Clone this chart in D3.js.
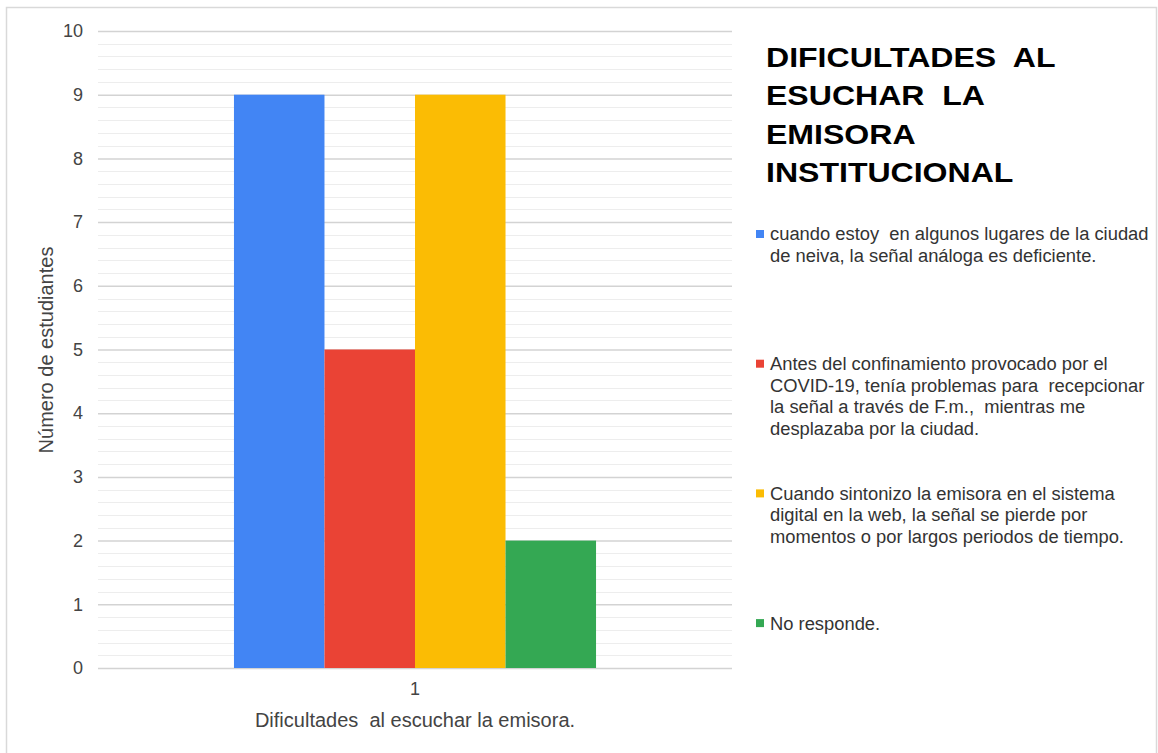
<!DOCTYPE html>
<html>
<head>
<meta charset="utf-8">
<script src="https://cdn.jsdelivr.net/npm/d3@7"></script>
<style>
  html, body { margin: 0; padding: 0; background: #fff; }
  svg { display: block; font-family: "Liberation Sans", Arial, sans-serif; }
</style>
</head>
<body>
<svg id="chart" width="1158" height="753"></svg>
<script>
// Survey answers: difficulties listening to the institutional station
const categories = ["1"];
const seriesNames = [
  "cuando estoy en algunos lugares de la ciudad de neiva, la señal análoga es deficiente.",
  "Antes del confinamiento provocado por el COVID-19, tenía problemas para  recepcionar la señal a través de F.m., mientras me desplazaba por la ciudad.",
  "Cuando sintonizo la emisora en el sistema digital en la web, la señal se pierde por momentos o por largos periodos de tiempo.",
  "No responde."
];
const legendLines = [
  ["cuando estoy  en algunos lugares de la ciudad", "de neiva, la señal análoga es deficiente."],
  ["Antes del confinamiento provocado por el", "COVID-19, tenía problemas para  recepcionar", "la señal a través de F.m.,  mientras me", "desplazaba por la ciudad."],
  ["Cuando sintonizo la emisora en el sistema", "digital en la web, la señal se pierde por", "momentos o por largos periodos de tiempo."],
  ["No responde."]
];
const seriesValues = [9, 5, 9, 2];
const seriesColors = ["#4285f4", "#ea4335", "#fbbc04", "#34a853"];
const yTicks = [0, 1, 2, 3, 4, 5, 6, 7, 8, 9, 10];
const titleLines = ["DIFICULTADES  AL", "ESUCHAR  LA", "EMISORA", "INSTITUCIONAL"];
const xTitle = "Dificultades  al escuchar la emisora.";
const yTitle = "Número de estudiantes";

const svg = d3.select("#chart");

// outer frame
svg.append("rect")
  .attr("x", 6.5).attr("y", 7.5)
  .attr("width", 1150).attr("height", 770)
  .attr("fill", "#fff").attr("stroke", "#d9d9d9").attr("stroke-width", 1.5);

const plot = { left: 98, right: 732, top: 31, bottom: 668 };

const y = d3.scaleLinear().domain([0, 10]).range([plot.bottom, plot.top]);
const x0 = d3.scaleBand().domain(categories).range([plot.left, plot.right])
  .paddingInner(0.273).paddingOuter(0.273);
const x1 = d3.scaleBand().domain(d3.range(seriesValues.length)).range([0, x0.bandwidth()]);

// minor gridlines every 0.2
const minor = d3.range(0, 50).map(i => i / 5).filter(v => Math.abs(v - Math.round(v)) > 1e-6);
svg.append("g").selectAll("line").data(minor).join("line")
  .attr("x1", plot.left).attr("x2", plot.right)
  .attr("y1", d => Math.round(y(d)) + 0.5).attr("y2", d => Math.round(y(d)) + 0.5)
  .attr("stroke", "#ededed").attr("stroke-width", 1);

// major gridlines via axis
const yAxis = d3.axisLeft(y).tickValues(yTicks).tickSize(-(plot.right - plot.left)).tickPadding(15);
const gy = svg.append("g").attr("transform", `translate(${plot.left},0)`).call(yAxis);
gy.select(".domain").remove();
gy.selectAll(".tick line").attr("stroke", "#d3d3d3").attr("stroke-width", 1.5);
gy.selectAll(".tick text")
  .attr("font-size", 18).attr("fill", "#444")
  .attr("font-family", "Liberation Sans, Arial, sans-serif");

// bars
const groups = svg.append("g").selectAll("g").data(categories).join("g")
  .attr("transform", d => `translate(${x0(d)},0)`);
groups.selectAll("rect").data(seriesValues.map((v, i) => ({ v, i }))).join("rect")
  .attr("x", d => x1(d.i))
  .attr("width", x1.bandwidth())
  .attr("y", d => y(d.v))
  .attr("height", d => y(0) - y(d.v))
  .attr("fill", d => seriesColors[d.i]);

// x axis labels
const xAxis = d3.axisBottom(x0).tickSize(0).tickPadding(14);
const gx = svg.append("g").attr("transform", `translate(0,${plot.bottom})`).call(xAxis);
gx.select(".domain").remove();
gx.selectAll(".tick text")
  .attr("font-size", 18).attr("fill", "#444")
  .attr("font-family", "Liberation Sans, Arial, sans-serif");

svg.append("text")
  .attr("x", (plot.left + plot.right) / 2).attr("y", 727)
  .attr("text-anchor", "middle")
  .attr("font-size", 20).attr("fill", "#444")
  .style("white-space", "pre")
  .text(xTitle);

svg.append("text")
  .attr("transform", "translate(53,350) rotate(-90)")
  .attr("text-anchor", "middle")
  .attr("font-size", 20).attr("fill", "#444")
  .text(yTitle);

// title, set in a slightly widened bold face
svg.append("g")
  .attr("transform", "translate(766,0) scale(1.145,1)")
  .selectAll("text").data(titleLines).join("text")
  .attr("x", 0)
  .attr("y", (d, i) => 67 + i * 38.5)
  .attr("font-size", 28).attr("font-weight", "bold").attr("fill", "#000")
  .style("white-space", "pre")
  .text(d => d);

// legend
const legend = svg.append("g").selectAll("g").data(legendLines).join("g")
  .attr("transform", (d, i) => `translate(756,${234 + i * 129.7})`);
legend.append("rect")
  .attr("x", 0).attr("y", -4).attr("width", 8).attr("height", 8)
  .attr("fill", (d, i) => seriesColors[i]);
legend.each(function (lines) {
  d3.select(this).append("g")
    .attr("transform", "translate(14,0) scale(1.02,1)")
    .selectAll("text").data(lines).join("text")
    .attr("x", 0)
    .attr("y", (d, j) => j * 21.5)
    .attr("dy", "0.36em")
    .attr("font-size", 18).attr("fill", "#333")
    .style("white-space", "pre")
    .text(d => d);
});
</script>
</body>
</html>
